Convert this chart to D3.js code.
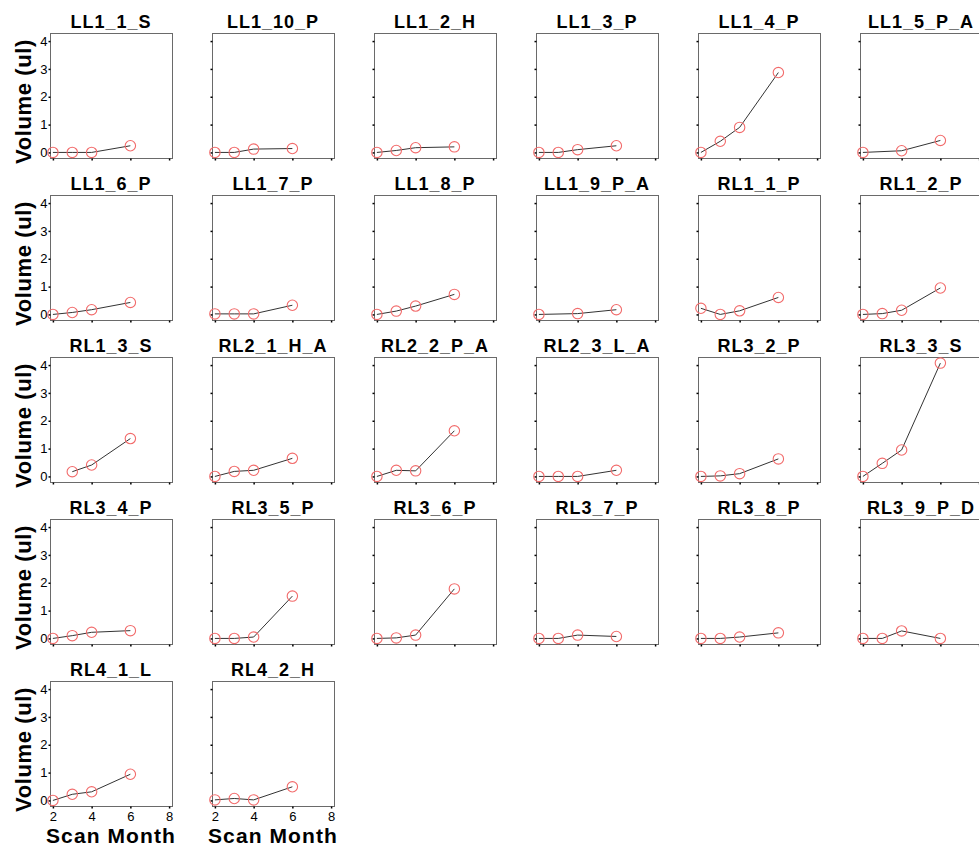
<!DOCTYPE html>
<html>
<head>
<meta charset="utf-8">
<script src="https://cdn.jsdelivr.net/npm/d3@7/dist/d3.min.js"></script>
<style>
  html, body { margin: 0; padding: 0; background: #fff; }
  svg { display: block; }
  text { font-family: "Liberation Sans", Arial, sans-serif; }
</style>
</head>
<body>
<svg id="chart" width="979" height="850"></svg>
<script>
// ---- Data ----
const panelNames = [
  "LL1_1_S", "LL1_10_P", "LL1_2_H", "LL1_3_P", "LL1_4_P", "LL1_5_P_A",
  "LL1_6_P", "LL1_7_P", "LL1_8_P", "LL1_9_P_A", "RL1_1_P", "RL1_2_P",
  "RL1_3_S", "RL2_1_H_A", "RL2_2_P_A", "RL2_3_L_A", "RL3_2_P", "RL3_3_S",
  "RL3_4_P", "RL3_5_P", "RL3_6_P", "RL3_7_P", "RL3_8_P", "RL3_9_P_D",
  "RL4_1_L", "RL4_2_H"
];
const scanMonths = [
  [2,3,4,6], [2,3,4,6], [2,3,4,6], [2,3,4,6], [2,3,4,6], [2,4,6],
  [2,3,4,6], [2,3,4,6], [2,3,4,6], [2,4,6],   [2,3,4,6], [2,3,4,6],
  [3,4,6],   [2,3,4,6], [2,3,4,6], [2,3,4,6], [2,3,4,6], [2,3,4,6],
  [2,3,4,6], [2,3,4,6], [2,3,4,6], [2,3,4,6], [2,3,4,6], [2,3,4,6],
  [2,3,4,6], [2,3,4,6]
];
const volumes = [
  [0, 0, 0, 0.24],      [0, 0, 0.12, 0.14],    [0, 0.07, 0.17, 0.2],  [0, 0, 0.1, 0.24],
  [0, 0.4, 0.9, 2.87],  [0, 0.06, 0.43],
  [0, 0.07, 0.17, 0.43],[0.02, 0.02, 0.02, 0.33],[0, 0.12, 0.3, 0.72],[0, 0.03, 0.17],
  [0.22, 0, 0.13, 0.61],[0, 0.03, 0.15, 0.95],
  [0.17, 0.41, 1.36],   [0, 0.18, 0.22, 0.65], [0, 0.22, 0.2, 1.64],  [0, 0, 0, 0.22],
  [0, 0.02, 0.1, 0.63], [0, 0.47, 0.95, 4.07],
  [0, 0.1, 0.22, 0.28], [0, 0, 0.05, 1.52],    [0, 0.02, 0.12, 1.78], [0, 0, 0.12, 0.07],
  [0, 0, 0.05, 0.2],    [0, 0, 0.27, 0],
  [0, 0.22, 0.31, 0.94],[0.02, 0.07, 0.02, 0.49]
];
const yTicks = [0, 1, 2, 3, 4];
const xTicks = [2, 4, 6, 8];
const yLabel = "Volume (ul)";
const xLabel = "Scan Month";

// ---- Layout ----
const nCols = 6;
const colX0 = 50, colStep = 162;
const rowY0 = 33, rowStep = 162;
const pw = 122, ph = 125;
const nRows = Math.ceil(panelNames.length / nCols);
const FONT = "'Liberation Sans', Arial, sans-serif";

const x = d3.scaleLinear().domain([1.85, 8.15]).range([0, pw]);
const y = d3.scaleLinear().domain([-0.2, 4.29]).range([ph, 0]);

const svg = d3.select("#chart");

const line = d3.line().x(d => x(d[0])).y(d => y(d[1]));

panelNames.forEach((name, i) => {
  const col = i % nCols, row = Math.floor(i / nCols);
  const g = svg.append("g").attr("transform", `translate(${colX0 + col * colStep},${rowY0 + row * rowStep})`);

  // frame
  g.append("rect")
    .attr("x", 0.5).attr("y", 0.5).attr("width", pw).attr("height", ph)
    .attr("fill", "none").attr("stroke", "#6a6a6a").attr("stroke-width", 1);

  // left axis
  const ya = d3.axisLeft(y).tickValues(yTicks).tickSize(2).tickPadding(1).tickFormat(d3.format("d"));
  if (col !== 0) ya.tickFormat("");
  const yg = g.append("g").attr("transform", "translate(0.5,0)").call(ya);
  yg.select(".domain").remove();
  yg.selectAll("line").attr("stroke", "#000").attr("stroke-width", 1.5);
  yg.selectAll("text").attr("font-size", 13).attr("fill", "#000").attr("font-family", FONT);

  // bottom axis
  const isBottom = row === nRows - 1;
  const xa = d3.axisBottom(x).tickValues(xTicks).tickSize(2).tickPadding(3).tickFormat(d3.format("d"));
  if (!isBottom) xa.tickFormat("");
  const xg = g.append("g").attr("transform", `translate(0,${ph + 0.5})`).call(xa);
  xg.select(".domain").remove();
  xg.selectAll("line").attr("stroke", "#000").attr("stroke-width", 1.5);
  xg.selectAll("text").attr("font-size", 13).attr("fill", "#000").attr("font-family", FONT);

  // title
  g.append("text")
    .attr("x", pw / 2).attr("y", -5)
    .attr("text-anchor", "middle")
    .attr("font-size", 18).attr("font-weight", "bold").attr("letter-spacing", 1)
    .attr("fill", "#000")
    .text(name);

  // data
  const pts = scanMonths[i].map((m, k) => [m, volumes[i][k]]);
  g.append("path").datum(pts)
    .attr("d", line).attr("fill", "none")
    .attr("stroke", "#333").attr("stroke-width", 1);
  g.selectAll("circle.pt").data(pts).enter().append("circle")
    .attr("class", "pt")
    .attr("cx", d => x(d[0])).attr("cy", d => y(d[1]))
    .attr("r", 5.2)
    .attr("fill", "none").attr("stroke", "#f26b6b").attr("stroke-width", 1.1);

  // y label for first column
  if (col === 0) {
    g.append("text")
      .attr("transform", `translate(-19,${ph / 2 + 6}) rotate(-90)`)
      .attr("text-anchor", "middle")
      .attr("font-size", 22).attr("font-weight", "bold").attr("letter-spacing", 0.6)
      .attr("fill", "#000")
      .text(yLabel);
  }
  // x label for bottom panels
  if (isBottom) {
    g.append("text")
      .attr("x", pw / 2).attr("y", ph + 37)
      .attr("text-anchor", "middle")
      .attr("font-size", 21).attr("font-weight", "bold").attr("letter-spacing", 1.1)
      .attr("fill", "#000")
      .text(xLabel);
  }
});
</script>
</body>
</html>
